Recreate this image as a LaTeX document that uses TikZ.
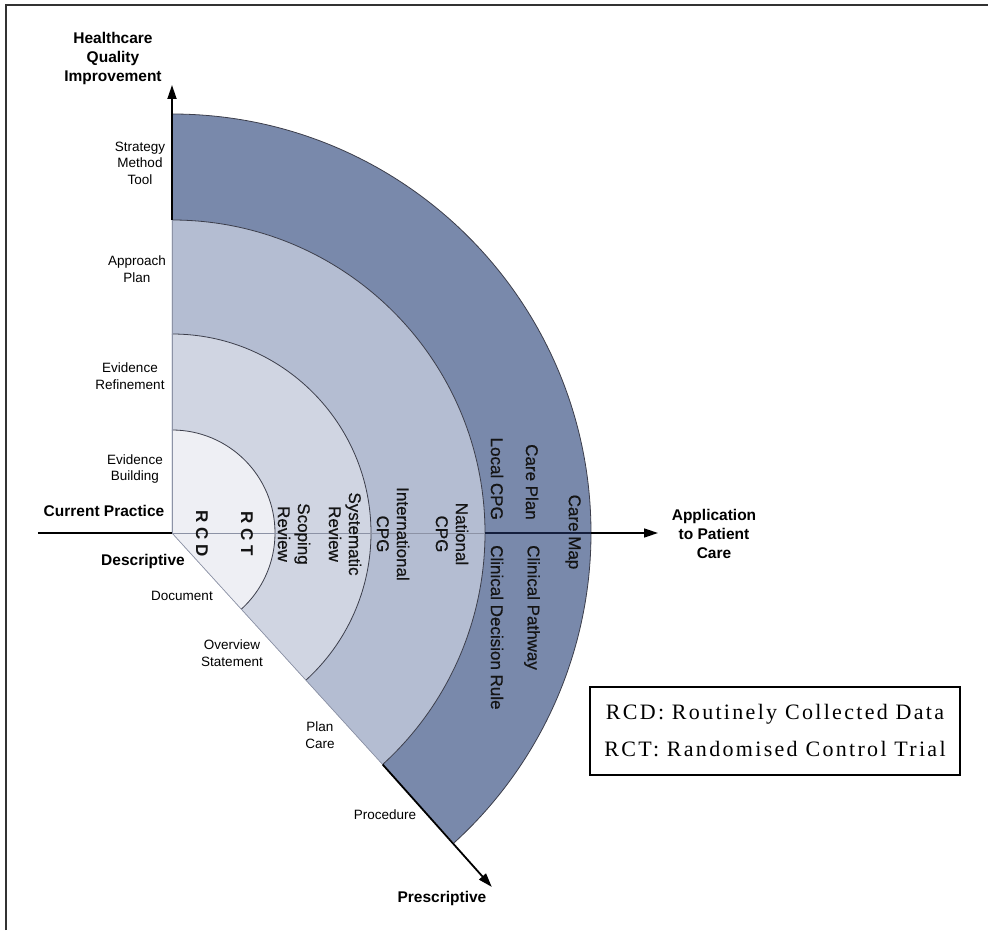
\documentclass[tikz,border=0pt]{standalone}
\usepackage{fontspec}
\setmainfont{Liberation Sans}
\newfontfamily\legendfont[LetterSpace=10.5]{Liberation Serif}
\newfontfamily\ringfont[FakeBold=0.6]{Liberation Sans}
\usetikzlibrary{arrows.meta}
\definecolor{ringA}{RGB}{238,239,244}
\definecolor{ringB}{RGB}{208,213,226}
\definecolor{ringC}{RGB}{180,189,210}
\definecolor{ringD}{RGB}{121,137,171}
\definecolor{arcline}{RGB}{60,62,75}
\definecolor{edgegray}{RGB}{140,146,165}
\definecolor{navy}{RGB}{20,30,60}
\definecolor{framec}{RGB}{50,50,50}
\begin{document}
\begin{tikzpicture}[x=1pt,y=1pt,
  axisarrow/.style={line width=1.8pt, -{Triangle[length=14pt,width=9pt]}},
  axisline/.style={line width=1.8pt},
  arcstyle/.style={draw=arcline, line width=0.8pt},
  edgestyle/.style={draw=edgegray, line width=0.7pt},
  bigbold/.style={inner sep=0pt, align=center, font=\fontsize{15.5}{19}\selectfont\bfseries},
  small/.style={inner sep=0pt, align=center, font=\fontsize{13.5}{16.5}\selectfont},
  ringtext/.style={inner sep=0pt, align=center, rotate=-90, text=black!92, font=\ringfont\fontsize{17}{20}\selectfont},
  ringbold/.style={ringtext, font=\fontsize{17}{20}\selectfont\bfseries},
  legendbox/.style={draw=black, line width=1.8pt, minimum width=370pt, minimum height=88pt, inner sep=0pt}
]
\useasboundingbox (-172,-397) rectangle (816,533);
% frame (left and top edges)
\draw[framec, line width=2pt] (-165.5,-397) -- (-165.5,528) -- (816,528);

\def\ang{-47.7}
\coordinate (O) at (0,0);
\coordinate (top) at (0,448);
\coordinate (right) at (486,0);
\coordinate (left) at (-134,0);
\coordinate (diag) at (-47.9:477pt);
\coordinate (v3) at (0,313);
\coordinate (h3) at (313,0);
\coordinate (h4) at (419,0);
\coordinate (d3) at (\ang:313pt);

% rings
\fill[ringD] (O) -- (90:419pt) arc[start angle=90, end angle=\ang, radius=419pt] -- cycle;
\fill[ringC] (O) -- (90:313pt) arc[start angle=90, end angle=\ang, radius=313pt] -- cycle;
\fill[ringB] (O) -- (90:199pt) arc[start angle=90, end angle=\ang, radius=199pt] -- cycle;
\fill[ringA] (O) -- (90:103pt) arc[start angle=90, end angle=\ang, radius=103pt] -- cycle;
\foreach \r in {103,199,313,419}{
  \draw[arcstyle] (90:\r pt) arc[start angle=90, end angle=\ang, radius=\r pt];
}
% inner edges and axis inside
\draw[edgestyle] (O) -- (v3);
\draw[edgestyle] (O) -- (d3);
\draw[edgestyle] (O) -- (h3);

% axes
\draw[axisline] (left) -- (O);
\draw[axisarrow] (v3) -- (top);
\draw[axisarrow] (d3) -- (diag);
\draw[navy, line width=1.2pt] (h3) -- (h4);
\draw[line width=1.5pt, -{Triangle[length=14pt,width=9pt]}] (h4) -- (right);

% axis labels
\node[bigbold] (hqi) at (-59,475) {Healthcare\\Quality\\Improvement};
\node[bigbold] (cp) at (-68,22) {Current Practice};
\node[bigbold] (desc) at (-29,-28) {Descriptive};
\node[bigbold] (presc) at (270,-365) {Prescriptive};
\node[bigbold] (app) at (542,-1) {Application\\to Patient\\Care};

% vertical axis labels
\node[small] (smt) at (-32,370) {Strategy\\Method\\Tool};
\node[small] (ap) at (-35,264) {Approach\\Plan};
\node[small] (er) at (-42,157) {Evidence\\Refinement};
\node[small] (eb) at (-37,64) {Evidence\\Building};
% diagonal labels
\node[small] (doc) at (10,-63) {Document};
\node[small] (os) at (60,-120) {Overview\\Statement};
\node[small] (pc) at (148,-202) {Plan\\Care};
\node[small] (proc) at (213,-282) {Procedure};

% ring labels
\node[ringbold] (rcd) at (30,-1) {R C D};
\node[ringbold] (rct) at (75,-1) {R C T};
\node[ringtext] (scop) at (122,-1) {Scoping\\Review};
\node[ringtext] (sys) at (173,-1) {Systematic\\Review};
\node[ringtext] (intl) at (221,-1) {International\\CPG};
\node[ringtext] (natl) at (280,-1) {National\\CPG};
\node[ringtext, anchor=east] (local) at (325,13) {Local CPG};
\node[ringtext, anchor=west] (cdr) at (325,-12) {Clinical Decision Rule};
\node[ringtext, anchor=east] (cplan) at (360,13) {Care Plan};
\node[ringtext, anchor=west] (cpath) at (360,-12) {Clinical Pathway};
\node[ringtext] (cmap) at (401,1) {Care Map};

% legend
\node[legendbox] (legend) at (603,-198) {};
\node[inner sep=0pt, font=\legendfont\fontsize{22}{37}\selectfont, align=center] (legtext) at (legend.center) {RCD: Routinely Collected Data\\RCT: Randomised Control Trial};
\end{tikzpicture}
\end{document}
